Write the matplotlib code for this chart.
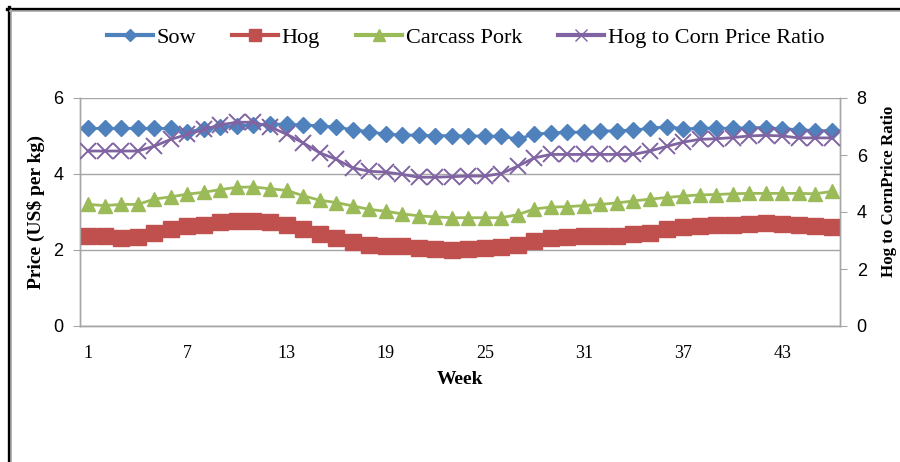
import matplotlib

matplotlib.use("Agg")
import matplotlib.pyplot as plt
from matplotlib.lines import Line2D

SOW_C, HOG_C, PORK_C, RATIO_C = "#4F81BD", "#C0504D", "#9BBB59", "#8064A2"
GRID = "#a6a6a6"

weeks = list(range(1, 47))
xtick_weeks = [1, 7, 13, 19, 25, 31, 37, 43]

# weekly prices, US$ per kg
sow = [5.20, 5.20, 5.20, 5.20, 5.20, 5.20, 5.11, 5.19, 5.23, 5.27,
       5.29, 5.31, 5.31, 5.29, 5.27, 5.23, 5.17, 5.11, 5.05, 5.03,
       5.02, 5.01, 5.01, 5.00, 5.00, 4.99, 4.92, 5.05, 5.08, 5.10,
       5.10, 5.13, 5.14, 5.16, 5.20, 5.25, 5.19, 5.20, 5.21, 5.20,
       5.22, 5.22, 5.19, 5.17, 5.14, 5.14]
hog = [2.36, 2.36, 2.32, 2.34, 2.45, 2.54, 2.62, 2.67, 2.73, 2.76,
       2.77, 2.74, 2.67, 2.54, 2.41, 2.32, 2.20, 2.14, 2.11, 2.10,
       2.04, 2.02, 2.01, 2.03, 2.04, 2.07, 2.14, 2.25, 2.32, 2.35,
       2.36, 2.37, 2.38, 2.41, 2.45, 2.55, 2.60, 2.63, 2.65, 2.66,
       2.69, 2.70, 2.68, 2.65, 2.63, 2.60]
carcass = [3.20, 3.17, 3.20, 3.20, 3.34, 3.40, 3.47, 3.52, 3.59, 3.65,
           3.66, 3.61, 3.57, 3.43, 3.31, 3.25, 3.16, 3.07, 3.02, 2.95,
           2.90, 2.87, 2.85, 2.85, 2.85, 2.85, 2.93, 3.08, 3.13, 3.14,
           3.17, 3.20, 3.24, 3.29, 3.34, 3.38, 3.42, 3.45, 3.46, 3.48,
           3.49, 3.49, 3.49, 3.49, 3.48, 3.54]
# hog to corn price ratio (right axis)
ratio = [6.14, 6.14, 6.14, 6.14, 6.31, 6.55, 6.72, 6.90, 7.06, 7.15,
         7.15, 6.99, 6.73, 6.43, 6.08, 5.85, 5.55, 5.43, 5.40, 5.32,
         5.22, 5.22, 5.24, 5.26, 5.26, 5.35, 5.61, 5.90, 6.02, 6.02,
         6.02, 6.02, 6.02, 6.02, 6.14, 6.30, 6.45, 6.55, 6.57, 6.61,
         6.67, 6.69, 6.67, 6.60, 6.60, 6.60]

SERIF = ["Liberation Serif", "DejaVu Serif"]
SANS = ["Liberation Sans", "DejaVu Sans"]

fig = plt.figure(figsize=(9.0, 4.62), dpi=100)
ax = fig.add_axes([80 / 900, 1 - 326 / 462, 760 / 900, 228 / 462])
ax2 = ax.twinx()

lw = 2.0
ax.plot(weeks, sow, color=SOW_C, lw=lw, marker="D", ms=8.5, mec=SOW_C, zorder=3)
ax.plot(weeks, hog, color=HOG_C, lw=lw, marker="s", ms=11, mec=HOG_C, zorder=3)
ax.plot(weeks, carcass, color=PORK_C, lw=lw, marker="^", ms=10.5, mec=PORK_C, zorder=3)
ax2.plot(weeks, ratio, color=RATIO_C, lw=lw, marker="x", ms=11, mew=1.4, zorder=3)

ax.set_xlim(0.5, 46.5)
ax.set_ylim(0, 6)
ax2.set_ylim(0, 8)
ax.set_yticks([0, 2, 4, 6])
ax2.set_yticks([0, 2, 4, 6, 8])
ax.set_xticks(xtick_weeks)
ax.set_xticklabels([str(w) for w in xtick_weeks], family=SERIF, fontsize=13)
ax.tick_params(axis="x", length=0, pad=14)
ax.tick_params(axis="y", length=5, color=GRID, labelsize=13, pad=7)
ax2.tick_params(axis="y", length=5, color=GRID, labelsize=13, pad=7)
for t in ax.get_yticklabels() + ax2.get_yticklabels():
    t.set_family(SANS)

ax.grid(axis="y", color=GRID, lw=1.0)
ax.set_axisbelow(True)
for a in (ax, ax2):
    a.spines["top"].set_visible(False)
    for s in ("left", "right", "bottom"):
        a.spines[s].set_color(GRID)
        a.spines[s].set_linewidth(1.0)

ax.set_xlabel("Week", family=SERIF, fontsize=14, fontweight="bold", labelpad=6)
ax.set_ylabel("Price (US$ per kg)", family=SERIF, fontsize=14, fontweight="bold", labelpad=6)
ax2.set_ylabel("Hog to CornPrice Ratio", family=SERIF, fontsize=12.2, fontweight="bold")
ax2.yaxis.set_label_coords(1.054, 0.59)

handles = [
    Line2D([], [], color=SOW_C, lw=3, marker="D", ms=6),
    Line2D([], [], color=HOG_C, lw=3, marker="s", ms=9),
    Line2D([], [], color=PORK_C, lw=3, marker="^", ms=8),
    Line2D([], [], color=RATIO_C, lw=3, marker="x", ms=8, mew=1),
]
labels = ["Sow", "Hog", "Carcass Pork", "Hog to Corn Price Ratio"]
fig.legend(handles, labels, loc="center", bbox_to_anchor=(0.517, 1 - 38 / 462), ncol=4,
           frameon=False, prop={"family": SERIF, "size": 16}, handlelength=2.1,
           handletextpad=0.15, columnspacing=1.6)

# outer frame: black edge with a thin gray line inside it
W, H = 900, 462
fig.add_artist(Line2D([8.5 / W, 8.5 / W], [0, 1 - 7 / H], color="black", lw=2.4, transform=fig.transFigure))
fig.add_artist(Line2D([7 / W, 1], [1 - 8.5 / H, 1 - 8.5 / H], color="black", lw=2.4, transform=fig.transFigure))
fig.add_artist(Line2D([11 / W, 11 / W], [0, 1 - 10 / H], color="#b0b0b0", lw=1.2, transform=fig.transFigure))
fig.add_artist(Line2D([10 / W, 1], [1 - 11 / H, 1 - 11 / H], color="#b0b0b0", lw=1.2, transform=fig.transFigure))

fig.savefig("out.png", dpi=100, facecolor="white")
